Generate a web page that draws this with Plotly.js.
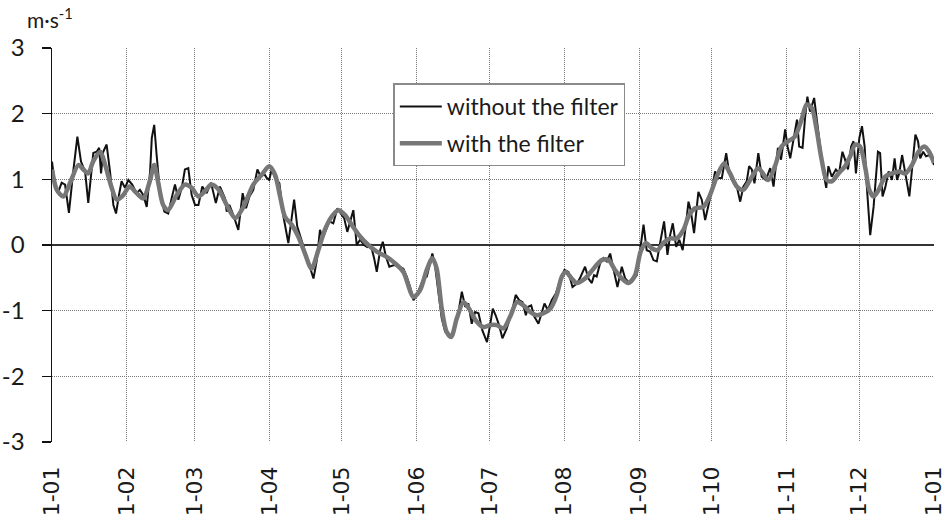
<!DOCTYPE html>
<html>
<head>
<meta charset="utf-8">
<script src="https://cdn.plot.ly/plotly-3.0.1.min.js"></script>
<style>html,body{margin:0;padding:0;background:#fff;}#chart{width:950px;height:516px;}</style>
</head>
<body>
<div id="chart"></div>
<script>
// Month-start positions (day of year) and their tick labels
const monthDays = [0, 31, 59, 90, 120, 151, 181, 212, 243, 273, 304, 334, 365];
const monthLabels = ["1-01","1-02","1-03","1-04","1-05","1-06","1-07","1-08","1-09","1-10","1-11","1-12","1-01"];
const yTickVals = [-3, -2, -1, 0, 1, 2, 3];
const yTickLabels = ["-3", "-2", "-1", "0", "1", "2", "3"];

// Series 1: without the filter (day of year, m·s-1)
const rawDay = [0,1.2,2.6,4.0,5.4,7.0,8.8,10.5,12.0,13.7,15.0,17.1,18.5,19.5,20.3,21.2,22.6,24.0,25.4,26.5,27.7,28.8,30.2,31.6,33.2,35.0,36.4,37.8,39.2,40.6,41.3,42.3,43.3,44.7,46.5,48.1,49.5,50.9,52.3,53.7,55.0,56.4,57.8,59.2,60.6,62.2,64.0,65.8,67.8,69.5,71.6,
72.3,73.4,75.0,77.1,78.9,80.3,81.7,83.3,85.0,86.4,87.7,88.9,89.9,90.9,92.3,94.1,95.8,97.8,98.8,100.2,101.5,103.4,105.1,106.8,108.2,109.6,110.9,112.0,113.4,114.8,116.4,118.1,119.5,120.9,122.2,123.6,124.7,126.1,127.5,129.1,130.5,131.9,133.3,134.4,135.8,136.9,138.2,139.6,141.3,142.7,144.0,
145.4,146.8,148.2,149.6,151.0,152.3,153.7,155.1,156.2,157.4,158.5,159.9,161.3,162.7,164.0,165.2,166.5,168.0,169.6,171.0,172.3,173.7,175.1,176.5,178.1,180.0,181.3,182.4,183.6,185.0,186.4,188.2,190.3,191.9,193.3,194.7,196.1,197.1,198.3,199.6,201.3,202.7,203.8,205.2,206.8,208.5,210.3,212.1,213.7,215.4,
217.4,218.8,220.6,222.0,223.4,224.3,225.4,226.8,228.2,229.6,231.0,232.3,234.0,235.8,237.2,239.0,240.6,242.0,243.4,244.8,246.1,247.5,248.9,250.3,251.9,253.3,254.7,255.8,256.9,258.3,259.6,261.0,262.4,263.4,264.3,265.7,267.5,268.9,270.3,271.6,273.1,274.4,275.8,277.2,279.0,280.3,281.7,283.1,284.8,286.1,287.5,
288.5,289.6,290.7,292.3,293.7,295.4,297.2,298.6,300.4,301.7,303.4,304.4,305.5,306.9,308.3,309.2,310.6,311.7,312.6,313.7,315.4,316.5,317.9,319.3,320.4,321.3,322.7,324.4,325.7,327.1,328.2,329.4,330.7,331.7,332.7,334.1,335.2,336.3,337.2,338.6,340.0,341.0,341.8,342.7,343.7,344.8,346.2,347.6,348.7,349.7,350.6,351.8,353.1,354.8,355.9,357.3,358.4,359.3,360.5,361.7,363.1,364.2,365.0];
const rawVal = [1.27,0.92,0.81,0.95,0.92,0.49,1.12,1.65,1.27,1.12,0.64,1.40,1.42,1.48,1.09,1.42,1.53,1.12,0.61,0.48,0.76,0.97,0.87,0.99,0.92,0.79,0.84,0.76,0.58,1.12,1.63,1.83,1.37,0.79,0.51,0.48,0.71,0.92,0.69,0.87,1.15,1.17,0.76,0.61,0.61,0.89,0.79,0.95,0.64,0.89,0.71,
0.51,0.61,0.46,0.23,0.79,0.56,0.74,0.84,1.15,1.04,1.09,1.02,0.99,1.15,1.02,0.94,0.43,0.03,0.31,0.69,0.28,0.05,-0.13,-0.33,-0.51,-0.23,0.23,0.10,0.23,0.36,0.33,0.56,0.48,0.41,0.20,0.41,0.53,0.00,0.08,0.00,-0.03,0.00,-0.20,-0.41,-0.08,0.05,-0.18,-0.33,-0.31,-0.31,-0.33,
-0.36,-0.48,-0.64,-0.84,-0.76,-0.64,-0.51,-0.48,-0.31,-0.13,-0.31,-0.71,-1.12,-1.32,-1.35,-1.42,-1.27,-1.07,-0.71,-0.94,-0.89,-1.20,-1.02,-1.04,-1.30,-1.48,-1.22,-0.97,-1.07,-1.22,-1.42,-1.27,-1.02,-0.76,-0.84,-0.87,-1.07,-0.94,-0.92,-1.09,-1.20,-1.02,-0.89,-0.99,-0.84,-0.74,-0.53,-0.38,-0.41,-0.64,
-0.58,-0.48,-0.33,-0.51,-0.58,-0.46,-0.48,-0.28,-0.20,-0.25,-0.13,-0.36,-0.64,-0.33,-0.51,-0.58,-0.53,-0.46,-0.08,0.31,-0.08,-0.10,-0.23,-0.25,0.08,0.36,-0.15,0.15,0.33,-0.03,0.08,-0.08,0.33,0.66,0.53,0.18,0.81,0.69,0.38,0.58,0.84,1.12,1.02,1.02,1.40,1.09,0.97,0.94,0.66,0.89,0.97,
1.20,1.15,0.94,1.40,1.04,0.99,1.17,0.89,1.48,1.30,1.76,1.50,1.32,1.65,1.91,1.50,1.48,1.96,2.26,2.03,2.24,1.91,1.50,1.09,0.87,1.20,1.04,1.15,1.09,1.42,1.30,1.15,1.50,1.58,1.09,1.63,1.81,1.50,0.89,0.15,0.58,0.99,1.42,1.40,0.74,0.87,1.12,0.99,1.32,0.99,1.09,1.37,1.09,0.74,1.15,1.68,1.58,1.32,1.42,1.35,1.37,1.30,1.22];

// Series 2: with the filter
const filtDay = [0,2,4.7,7.4,11,13,15,17,20,22,24.7,26.8,29.5,32,35,37.8,40.6,42.3,44,46,48,51.6,55,57.8,60.6,63.3,66,69,
72.3,75.8,79.2,83.3,86.8,89.9,92.3,94.4,96.4,99.2,101.9,104.7,107.4,110.2,112.9,115.7,118.5,121.2,124.0,127.5,130.9,134.4,138.5,142,
145.4,149.6,152.3,155.1,157.4,159.2,161.3,163.3,165.2,167.5,170.3,172.6,175.8,178.5,181.3,184,186.8,189.6,192.4,195.1,197.9,200.6,203.4,206.2,208.9,211,212.6,215.1,
217.1,220.6,224.1,227.5,230.3,233,235.8,238.5,241.3,243.6,245.8,248.2,250.5,253,255.8,258.5,261.3,263.7,266.1,269.6,272.3,275.1,278.1,280.6,283.4,286.1,
288.9,292.3,296.4,299.2,301.9,304.7,307.4,310.2,312.3,314.4,316.4,318.5,320.6,322.7,325.5,328.2,330.3,332.4,334.4,336.7,338.2,340,342.1,344.8,347.6,350.6,353.2,355.9,358.6,361,363,365];
const filtVal = [1.15,0.84,0.74,0.94,1.22,1.15,1.09,1.27,1.42,1.22,0.87,0.69,0.76,0.89,0.79,0.71,0.99,1.22,0.94,0.61,0.53,0.76,0.92,0.87,0.74,0.82,0.92,0.84,
0.61,0.41,0.58,0.92,1.07,1.20,1.07,0.74,0.43,0.31,0.13,-0.13,-0.36,-0.08,0.23,0.43,0.53,0.46,0.31,0.13,0.00,-0.10,-0.18,-0.28,
-0.41,-0.79,-0.69,-0.38,-0.20,-0.36,-0.97,-1.32,-1.40,-1.12,-0.87,-0.97,-1.17,-1.25,-1.22,-1.22,-1.27,-1.09,-0.87,-0.92,-1.02,-1.07,-1.04,-0.97,-0.76,-0.48,-0.41,-0.51,
-0.58,-0.51,-0.36,-0.23,-0.23,-0.38,-0.51,-0.58,-0.46,-0.10,0.03,-0.05,-0.08,0.03,0.10,0.10,0.23,0.46,0.56,0.58,0.76,1.04,1.24,1.09,0.89,0.84,
0.99,1.17,0.99,1.20,1.50,1.58,1.65,1.91,2.14,2.09,1.76,1.30,0.99,0.97,1.09,1.20,1.35,1.53,1.50,1.15,0.84,0.74,0.84,1.04,1.09,1.12,1.09,1.22,1.42,1.50,1.42,1.25];

const seriesNames = ["without the filter", "with the filter"];

const traces = [
  {x: rawDay, y: rawVal, type: "scatter", mode: "lines", name: seriesNames[0], legendgroup: "a",
   line: {color: "#111111", width: 2}},
  {x: filtDay, y: filtVal, type: "scatter", mode: "lines", name: seriesNames[1], legendgroup: "b",
   line: {color: "#777777", width: 4.5, shape: "spline", smoothing: 0.8}}
];

const layout = {
  width: 950, height: 516,
  margin: {l: 52, r: 16, t: 48, b: 74},
  paper_bgcolor: "#ffffff", plot_bgcolor: "#ffffff",
  showlegend: true,
  legend: {x: 0.387, y: 0.91, xanchor: "left", yanchor: "top",
    bgcolor: "#ffffff", bordercolor: "#8a8a8a", borderwidth: 1.5,
    itemwidth: 42,
    font: {family: "Lato, 'Open Sans', sans-serif", size: 23, color: "#1a1a1a"},
    traceorder: "grouped", tracegroupgap: 4},
  xaxis: {range: [0, 365], tickmode: "array", tickvals: monthDays, ticktext: monthLabels,
    tickangle: -90, ticks: "", showline: false, zeroline: false,
    showgrid: true, gridcolor: "#777777", griddash: "1px,1px", gridwidth: 1,
    ticklabelstandoff: 19,
    tickfont: {family: "'DejaVu Sans', sans-serif", size: 22, color: "#1a1a1a"}},
  yaxis: {range: [-3, 3], tickmode: "array", tickvals: yTickVals, ticktext: yTickLabels,
    ticks: "outside", ticklen: 9, tickcolor: "#111", tickwidth: 1.5,
    showline: true, linecolor: "#111", linewidth: 1.5,
    zeroline: true, zerolinecolor: "#333", zerolinewidth: 1.5,
    showgrid: true, gridcolor: "#777777", griddash: "1px,1px", gridwidth: 1,
    ticklabelstandoff: 12,
    tickfont: {family: "Lato, 'Open Sans', sans-serif", size: 24, color: "#1a1a1a"}},
  annotations: [{xref: "paper", yref: "paper", x: -0.031, y: 1.075, xanchor: "left", yanchor: "middle",
    showarrow: false, text: "m·s<sup>-1</sup>",
    font: {family: "Lato, 'Open Sans', sans-serif", size: 21, color: "#1a1a1a"}}]
};

Plotly.newPlot("chart", traces, layout, {displayModeBar: false, staticPlot: true});
</script>
</body>
</html>
